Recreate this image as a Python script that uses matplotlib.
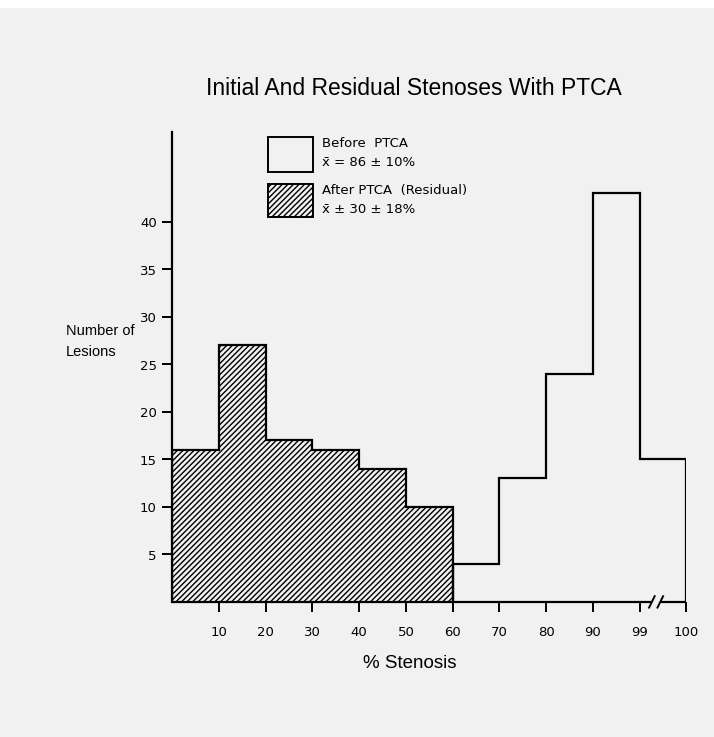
#!/usr/bin/env python3
"""Initial and residual stenoses with PTCA - replot of a scanned histogram."""

import matplotlib
matplotlib.use("Agg")
import matplotlib.pyplot as plt
from matplotlib.patches import Rectangle

# bins are 10% wide, except the last one (99-100) drawn at the same width
tick_labels = ["10", "20", "30", "40", "50", "60", "70", "80", "90", "99", "100"]
after_counts = [16, 27, 17, 16, 14, 10]        # bins 0-10 ... 50-60 (residual)
before_counts = [4, 13, 24, 43, 15]            # bins 60-70 ... 99-100
y_ticks = [5, 10, 15, 20, 25, 30, 35, 40]

W, H = 714, 737
PAGE = "#f1f1f1"
plt.rcParams["hatch.linewidth"] = 1.0


def fx(px):
    return px / W


def fy(py):
    return 1 - py / H


fig = plt.figure(figsize=(7.145, 7.375), dpi=100, facecolor=PAGE)
fig.patches.append(Rectangle((0, fy(8)), 1, 8 / H, transform=fig.transFigure,
                             facecolor="white", edgecolor="none"))

ax = fig.add_axes([fx(172), fy(602), fx(686) - fx(172), fy(132) - fy(602)])
ax.set_facecolor("none")

n_after = len(after_counts)
edges_after = list(range(n_after + 1))
edges_before = list(range(n_after, n_after + len(before_counts) + 1))

# hatched fill for the residual stenoses, then the step outlines
ax.bar(edges_after[:-1], after_counts, width=1, align="edge", facecolor="none",
       edgecolor="black", hatch="//////", linewidth=0)
ax.stairs(after_counts, edges_after, baseline=0, color="black", linewidth=1.6)
ax.stairs(before_counts, edges_before, baseline=0, color="black", linewidth=1.6)

ax.set_xlim(0, 11)
ax.set_ylim(0, 49.5)
ax.set_xticks(range(1, 12))
ax.set_xticklabels(tick_labels)
ax.set_yticks(y_ticks)
ax.tick_params(axis="both", direction="out", length=7, width=1.4,
               labelsize=9.5, colors="black")
ax.tick_params(axis="y", pad=4)
ax.tick_params(axis="x", pad=10)
for s in ["top", "right", "bottom"]:
    ax.spines[s].set_visible(False)
ax.spines["left"].set_linewidth(1.6)

# x axis drawn by hand so it can carry the // break between 99 and 100
brk = dict(color="black", linewidth=1.6, clip_on=False, solid_capstyle="butt")
ax.plot([0, 10.25], [0, 0], **brk)
ax.plot([10.45, 11], [0, 0], **brk)
ax.plot([10.2, 10.32], [-0.6, 0.6], color="black", linewidth=1.4, clip_on=False)
ax.plot([10.38, 10.5], [-0.6, 0.6], color="black", linewidth=1.4, clip_on=False)

# titles and labels
fig.text(fx(414), fy(88), "Initial And Residual Stenoses With PTCA",
         family="Liberation Sans", fontsize=16.5, ha="center", va="center")
fig.text(fx(66), fy(331), "Number of", family="Liberation Sans",
         fontsize=10.5, ha="left", va="center")
fig.text(fx(66), fy(352), "Lesions", family="Liberation Sans",
         fontsize=10.5, ha="left", va="center")
fig.text(fx(409), fy(663), "% Stenosis", family="Liberation Sans",
         fontsize=13.5, ha="center", va="center")

# hand-drawn legend
fig.patches.append(Rectangle((fx(268), fy(172)), fx(313) - fx(268), fy(137) - fy(172),
                             transform=fig.transFigure, facecolor="none",
                             edgecolor="black", linewidth=1.4))
fig.patches.append(Rectangle((fx(268), fy(217)), fx(313) - fx(268), fy(184) - fy(217),
                             transform=fig.transFigure, facecolor="none",
                             edgecolor="black", linewidth=1.4, hatch="//////"))
leg = dict(fontsize=9.5, ha="left", va="center")
fig.text(fx(322), fy(143), "Before  PTCA", **leg)
fig.text(fx(322), fy(162), "x\u0304 = 86 \u00b1 10%", **leg)
fig.text(fx(322), fy(190), "After PTCA  (Residual)", **leg)
fig.text(fx(322), fy(209), "x\u0304 \u00b1 30 \u00b1 18%", **leg)

fig.savefig("out.png", dpi=100, facecolor=PAGE)
